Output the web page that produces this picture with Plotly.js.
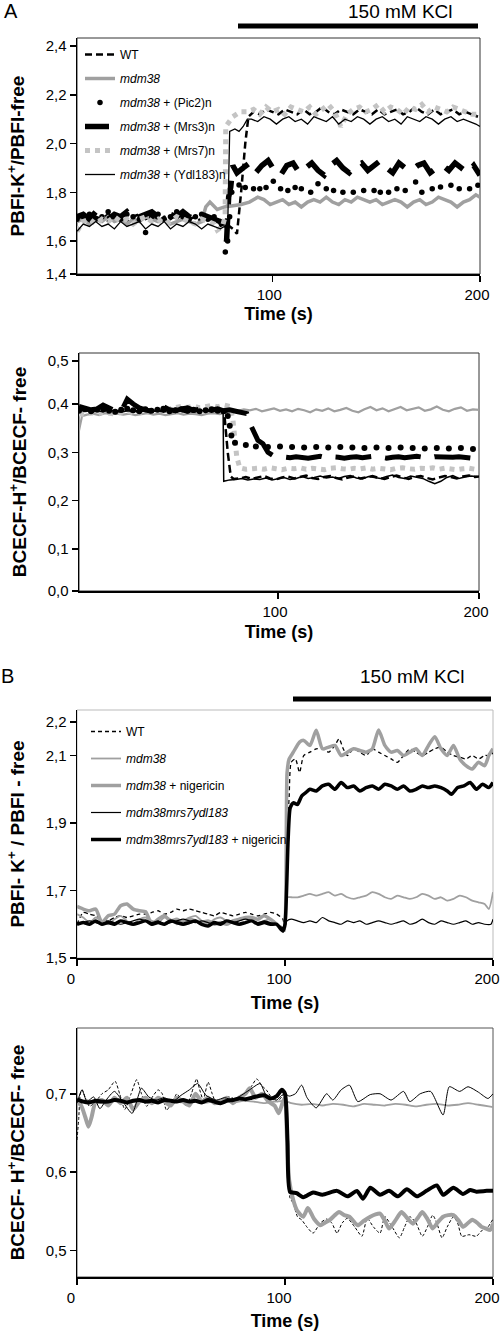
<!DOCTYPE html>
<html><head><meta charset="utf-8">
<script src="https://cdn.plot.ly/plotly-3.0.1.min.js"></script>
<style>html,body{margin:0;padding:0;background:#fff}#chart{width:500px;height:1334px}</style>
</head><body><div id="chart"></div>
<script>
// ================= DATA =================
// ---- Panel A, top (PBFI-K+/PBFI-free), time in s ----
const aTopWT_t = [6,9,12,15,18,21,24,27,30,33,36,39,42,45,48,51,54,57,60,63,66,69,72,75,78,81,83,85,87,88.5,91,94,97,100,103,106,109,112,115,118,121,124,127,130,133,136,139,142,145,148,151,154,157,160,163,166,169,172,175,178,181,184,187,190,193,196,199];
const aTopWT_v = [1.69,1.70,1.68,1.70,1.69,1.71,1.69,1.70,1.68,1.70,1.71,1.69,1.70,1.68,1.70,1.69,1.71,1.70,1.69,1.70,1.68,1.69,1.70,1.68,1.67,1.65,1.63,1.80,2.00,2.11,2.13,2.12,2.14,2.13,2.12,2.14,2.13,2.12,2.14,2.12,2.13,2.15,2.13,2.12,2.14,2.13,2.12,2.14,2.13,2.12,2.14,2.12,2.13,2.14,2.12,2.13,2.15,2.13,2.12,2.14,2.12,2.13,2.14,2.12,2.13,2.12,2.11];

const aTopM38_t = [6,9,12,15,18,21,24,27,30,33,36,39,42,45,48,51,54,57,60,63,66,68,70,73.5,77,81,85,89,93,96,99,102,105,108,111,114,117,120,123,126,129,132,135,138,141,144,147,150,153,156,159,162,165,168,171,174,177,180,183,186,189,192,195,198,200];
const aTopM38_v = [1.68,1.69,1.67,1.69,1.68,1.70,1.68,1.69,1.67,1.69,1.68,1.70,1.69,1.68,1.69,1.67,1.68,1.69,1.68,1.67,1.68,1.74,1.76,1.73,1.74,1.745,1.75,1.76,1.78,1.77,1.75,1.76,1.77,1.75,1.76,1.74,1.76,1.77,1.76,1.78,1.76,1.75,1.77,1.76,1.78,1.77,1.76,1.77,1.75,1.76,1.77,1.76,1.74,1.76,1.77,1.75,1.76,1.78,1.77,1.76,1.74,1.76,1.77,1.79,1.78];

const aTopPic2_t = [6,9,12,15,18,21,24,27,30,33,36,39,42,45,48,51,54,57,60,63,66,69,72,75,77.4,78.5,79.5,80.5,84,87,91,94,97,100.5,104,107.5,111,114,118.5,122,126,129.5,134,139,144,149,152,156,160,164,169,172,177,181,186,190,195,199];
const aTopPic2_v = [1.69,1.70,1.71,1.69,1.70,1.72,1.70,1.69,1.71,1.70,1.69,1.635,1.70,1.71,1.69,1.70,1.72,1.70,1.69,1.70,1.71,1.69,1.70,1.68,1.555,1.60,1.70,1.80,1.83,1.82,1.815,1.815,1.82,1.845,1.815,1.808,1.82,1.815,1.80,1.835,1.815,1.808,1.80,1.80,1.808,1.808,1.80,1.80,1.815,1.808,1.842,1.80,1.815,1.822,1.829,1.815,1.815,1.829];

const aTopMrs3_t = [6,9,12,15,18,21,24,27,30,33,36,39,42,45,48,51,54,57,60,63,66,69,72,75,77,78,79,80,81,83,86,89,92,95,98,101,104,107,110,113,116,119,122,125,128,131,134,137,140,143,146,149,152,155,158,161,164,167,170,173,176,179,182,185,188,191,194,197,200];
const aTopMrs3_v = [1.70,1.71,1.69,1.72,1.70,1.69,1.71,1.70,1.72,1.69,1.70,1.71,1.72,1.70,1.69,1.71,1.70,1.72,1.70,1.69,1.71,1.70,1.69,1.68,1.64,1.60,1.78,1.82,1.91,1.88,1.90,1.92,1.88,1.91,1.93,1.89,1.87,1.91,1.92,1.88,1.90,1.92,1.89,1.87,1.91,1.93,1.90,1.88,1.91,1.92,1.89,1.91,1.93,1.90,1.88,1.92,1.90,1.89,1.91,1.92,1.88,1.90,1.91,1.89,1.92,1.90,1.88,1.91,1.87];

const aTopMrs7_t = [6,9,12,15,18,21,24,27,30,33,36,39,42,45,48,51,54,57,60,63,66,69,72,73.5,76,77.3,77.6,81,84.6,88,91,94,97,100,103,106,109,112,115,118,121,124,127,130,133,136,139,142,145,148,151,154,157,160,163,166,169,172,175,178,181,184,187,190,193,196,199];
const aTopMrs7_v = [1.64,1.68,1.69,1.67,1.69,1.68,1.70,1.68,1.69,1.67,1.69,1.70,1.68,1.69,1.67,1.68,1.70,1.69,1.68,1.67,1.69,1.68,1.67,1.645,1.66,1.70,2.07,2.11,2.13,2.13,2.14,2.12,2.15,2.13,2.14,2.12,2.15,2.14,2.13,2.15,2.12,2.14,2.16,2.13,2.07,2.12,2.14,2.15,2.13,2.14,2.16,2.13,2.15,2.14,2.12,2.15,2.14,2.16,2.13,2.15,2.14,2.13,2.15,2.14,2.13,2.12,2.12];

const aTopYdl_t = [6,9,12,15,18,21,24,27,30,33,36,39,42,45,48,51,54,57,60,63,66,69,72,75,77,78.5,79.5,82,84,86,88,90,93,96,99,102,105,108,111,114,117,120,123,126,129,132,135,138,141,144,147,150,153,156,159,162,165,168,171,174,177,180,183,186,189,192,195,198,200];
const aTopYdl_v = [1.64,1.67,1.66,1.68,1.66,1.67,1.65,1.68,1.66,1.67,1.68,1.65,1.67,1.66,1.68,1.65,1.67,1.66,1.68,1.67,1.65,1.67,1.66,1.65,1.66,1.64,2.05,2.06,2.05,2.07,2.10,2.10,2.09,2.11,2.10,2.08,2.10,2.11,2.09,2.10,2.08,2.11,2.10,2.09,2.11,2.08,2.10,2.09,2.11,2.10,2.08,2.10,2.11,2.09,2.10,2.08,2.11,2.10,2.09,2.11,2.10,2.08,2.10,2.11,2.09,2.10,2.09,2.08,2.07];

// ---- Panel A, bottom (BCECF-H+/BCECF-free) ----
const aBotWT_t = [1,4,7,10,13,16,19,22,25,28,31,34,37,40,43,46,49,52,55,58,61,64,67,70,72,73.5,75,76.5,78,81,84,87,90,93,96,99,102,105,108,111,114,117,120,123,126,129,132,135,138,141,144,147,150,153,156,159,162,165,168,171,174,177,180,183,186,189,192,195,198,200];
const aBotWT_v = [0.39,0.386,0.383,0.388,0.385,0.39,0.384,0.387,0.389,0.383,0.386,0.39,0.385,0.388,0.384,0.387,0.39,0.385,0.383,0.388,0.386,0.389,0.384,0.387,0.385,0.37,0.30,0.25,0.245,0.246,0.249,0.245,0.248,0.251,0.246,0.244,0.248,0.25,0.246,0.249,0.252,0.247,0.245,0.249,0.251,0.247,0.244,0.248,0.25,0.246,0.249,0.251,0.247,0.245,0.249,0.252,0.248,0.245,0.249,0.251,0.247,0.244,0.248,0.251,0.249,0.246,0.25,0.252,0.249,0.25];

const aBotM38_t = [1,2.5,5,8,11,14,17,20,23,26,29,32,35,38,41,44,47,50,53,56,59,62,65,68,71,74,77,80,83,86,89,92,95,98,101,104,107,110,113,116,119,122,125,128,131,134,137,140,143,146,149,152,155,158,161,164,167,170,173,176,179,182,185,188,191,194,197,200];
const aBotM38_v = [0.345,0.375,0.378,0.38,0.377,0.381,0.379,0.38,0.378,0.38,0.377,0.379,0.381,0.378,0.38,0.377,0.379,0.381,0.378,0.38,0.379,0.377,0.38,0.381,0.379,0.382,0.388,0.386,0.389,0.387,0.39,0.385,0.388,0.391,0.386,0.389,0.385,0.39,0.387,0.383,0.389,0.386,0.391,0.385,0.388,0.392,0.386,0.383,0.389,0.394,0.387,0.391,0.385,0.39,0.394,0.387,0.39,0.393,0.386,0.389,0.395,0.388,0.385,0.39,0.393,0.386,0.389,0.388];

const aBotPic2_t = [1,4,7,10,13,16,19,22,25,28,31,34,37,40,43,46,49,52,55,58,61,64,67,70,73,75,76,76.8,78.6,84,89,95,101,107,113,119,125,131,137,143,149,155,161,167,173,179,185,191,197];
const aBotPic2_v = [0.386,0.389,0.385,0.388,0.39,0.386,0.384,0.388,0.39,0.387,0.385,0.389,0.386,0.388,0.39,0.385,0.387,0.389,0.386,0.388,0.385,0.387,0.389,0.386,0.385,0.375,0.355,0.335,0.32,0.315,0.312,0.311,0.312,0.311,0.31,0.311,0.31,0.311,0.31,0.309,0.31,0.309,0.31,0.309,0.308,0.309,0.308,0.309,0.307];

const aBotMrs3_t = [1,4,7,10,13,16,19,22,25,28,31,34,37,40,43,46,49,52,55,58,61,64,67,70,73,76,79,82,84.5,86,88,90,92.5,95,97.6,100,103,106,109,112,115,118,121,124,127,130,133,136,139,142,145,148,151,154,157,160,163,166,169,172,175,178,181,184,187,190,193,196,199,200];
const aBotMrs3_v = [0.395,0.392,0.388,0.39,0.398,0.392,0.386,0.385,0.41,0.4,0.392,0.388,0.385,0.39,0.395,0.388,0.386,0.39,0.392,0.387,0.389,0.385,0.388,0.39,0.386,0.388,0.385,0.383,0.38,0.36,0.34,0.325,0.318,0.30,0.293,0.292,0.29,0.289,0.291,0.29,0.288,0.29,0.292,0.289,0.291,0.29,0.288,0.29,0.291,0.289,0.29,0.292,0.29,0.288,0.29,0.291,0.289,0.29,0.292,0.29,0.288,0.291,0.29,0.289,0.29,0.291,0.29,0.288,0.29,0.288];

const aBotMrs7_t = [1,4,7,10,13,16,19,22,25,28,31,34,37,40,43,46,49,52,55,58,61,64,67,70,73,76,77.5,78.5,79.5,81,84,87,90,93,96,99,102,105,108,111,114,117,120,123,126,129,132,135,138,141,144,147,150,153,156,159,162,165,168,171,174,177,180,183,186,189,192,195,198,200];
const aBotMrs7_v = [0.38,0.378,0.382,0.38,0.383,0.381,0.379,0.383,0.385,0.382,0.384,0.381,0.386,0.388,0.385,0.39,0.392,0.395,0.393,0.396,0.392,0.395,0.397,0.394,0.398,0.395,0.37,0.33,0.29,0.268,0.265,0.266,0.267,0.265,0.268,0.266,0.264,0.267,0.266,0.268,0.265,0.267,0.266,0.264,0.267,0.268,0.266,0.265,0.267,0.266,0.268,0.265,0.267,0.266,0.264,0.267,0.268,0.266,0.265,0.267,0.266,0.268,0.265,0.267,0.266,0.264,0.266,0.267,0.265,0.266];

const aBotYdl_t = [1,4,7,10,13,16,19,22,25,28,31,34,37,40,43,46,49,52,55,58,61,64,67,70,72.7,73,76,79,82,85,88,91,94,97,100,103,106,109,112,115,118,121,124,127,130,133,136,139,142,145,148,151,154,157,160,163,166,169,172,175,178,181,184,187,190,193,196,199];
const aBotYdl_v = [0.385,0.387,0.383,0.386,0.384,0.388,0.385,0.383,0.386,0.388,0.384,0.386,0.383,0.387,0.385,0.388,0.384,0.386,0.385,0.383,0.387,0.385,0.384,0.386,0.385,0.24,0.243,0.244,0.246,0.243,0.245,0.244,0.247,0.243,0.246,0.248,0.244,0.246,0.25,0.246,0.248,0.251,0.247,0.249,0.246,0.25,0.252,0.247,0.245,0.25,0.248,0.246,0.25,0.253,0.248,0.246,0.251,0.249,0.246,0.24,0.235,0.24,0.248,0.252,0.246,0.249,0.251,0.25];

// ---- Panel B, top (PBFI-K+/PBFI-free) ----
const bTopWT_t = [0,3,6,9,12,15,18,21,24,27,30,33,36,39,42,45,48,51,54,57,60,63,66,69,72,75,78,81,84,87,90,93,96,99,100,101,102,103,105,107,109,112,115,118,121,124,126,128,130,133,136,139,142,145,148,151,154,157,160,163,166,169,172,175,178,181,184,187,190,193,196,199,200];
const bTopWT_v = [1.60,1.635,1.63,1.625,1.615,1.61,1.62,1.625,1.62,1.625,1.63,1.63,1.635,1.64,1.63,1.635,1.645,1.64,1.645,1.64,1.635,1.63,1.625,1.635,1.63,1.625,1.63,1.635,1.63,1.625,1.63,1.635,1.63,1.615,1.58,1.85,1.98,2.08,2.09,2.05,2.10,2.11,2.12,2.12,2.11,2.13,2.15,2.12,2.10,2.12,2.11,2.10,2.12,2.11,2.10,2.09,2.08,2.10,2.12,2.11,2.10,2.11,2.12,2.125,2.11,2.10,2.095,2.09,2.10,2.09,2.10,2.10,2.11];

const bTopM38_t = [0,3,6,9,12,15,18,21,24,27,30,33,36,39,42,45,48,51,54,57,60,63,66,69,72,75,78,81,84,87,90,93,96,99,100,101,103,106,109,112,115,118,121,124,127,130,133,136,139,142,145,148,151,154,157,160,163,166,169,172,175,178,181,184,187,190,193,196,198,200];
const bTopM38_v = [1.63,1.62,1.605,1.62,1.61,1.60,1.615,1.625,1.61,1.60,1.615,1.62,1.61,1.605,1.62,1.615,1.60,1.61,1.62,1.625,1.61,1.60,1.615,1.62,1.61,1.605,1.615,1.62,1.61,1.605,1.61,1.615,1.60,1.59,1.58,1.68,1.68,1.68,1.685,1.69,1.685,1.69,1.695,1.685,1.69,1.68,1.675,1.68,1.685,1.695,1.69,1.68,1.675,1.685,1.68,1.675,1.68,1.69,1.685,1.675,1.68,1.67,1.675,1.685,1.68,1.67,1.665,1.66,1.645,1.695];

const bTopM38N_t = [0,3,6,9,12,15,18,21,24,27,30,33,36,39,42,45,48,51,54,57,60,63,66,69,72,75,78,81,84,87,90,93,96,99,100,101,102,104,107,109,112,115,118,121,124,127,130,133,136,139,142,145,148,151,154,157,160,163,166,169,172,175,178,181,184,187,190,193,196,198,200];
const bTopM38N_v = [1.653,1.645,1.64,1.645,1.605,1.625,1.63,1.655,1.66,1.645,1.64,1.637,1.60,1.615,1.625,1.61,1.615,1.605,1.615,1.61,1.605,1.61,1.60,1.605,1.60,1.61,1.615,1.62,1.62,1.615,1.625,1.615,1.60,1.58,1.60,2.05,2.09,2.11,2.14,2.145,2.13,2.175,2.12,2.125,2.13,2.10,2.11,2.12,2.115,2.11,2.12,2.176,2.13,2.11,2.115,2.10,2.11,2.12,2.10,2.13,2.156,2.12,2.10,2.13,2.09,2.07,2.06,2.08,2.07,2.10,2.12];

const bTopTri_t = [0,3,6,9,12,15,18,21,24,27,30,33,36,39,42,45,48,51,54,57,60,63,66,69,72,75,78,81,84,87,90,93,96,99,100,101,103,106,109,112,115,118,121,124,127,130,133,136,139,142,145,148,151,154,157,160,163,166,169,172,175,178,181,184,187,190,193,196,199,200];
const bTopTri_v = [1.60,1.605,1.61,1.605,1.60,1.61,1.605,1.60,1.605,1.61,1.615,1.61,1.605,1.61,1.60,1.605,1.61,1.615,1.61,1.605,1.61,1.605,1.60,1.605,1.61,1.605,1.61,1.615,1.61,1.605,1.61,1.605,1.60,1.59,1.595,1.61,1.615,1.61,1.605,1.61,1.605,1.62,1.61,1.605,1.60,1.61,1.605,1.61,1.60,1.605,1.61,1.605,1.60,1.605,1.61,1.60,1.605,1.615,1.605,1.60,1.61,1.605,1.60,1.605,1.61,1.60,1.605,1.60,1.60,1.615];

const bTopTriN_t = [0,3,6,9,12,15,18,21,24,27,30,33,36,39,42,45,48,51,54,57,60,63,66,69,72,75,78,81,84,87,90,93,96,99,100,101.5,102.5,104,106,108,110,112,115,118,121,124,127,130,133,136,139,142,145,148,151,154,157,160,163,166,169,172,175,178,180,183,186,189,192,195,198,200];
const bTopTriN_v = [1.60,1.605,1.60,1.61,1.60,1.605,1.60,1.61,1.605,1.60,1.605,1.61,1.60,1.605,1.60,1.61,1.605,1.60,1.605,1.61,1.60,1.595,1.605,1.60,1.61,1.605,1.60,1.605,1.61,1.60,1.605,1.60,1.60,1.58,1.60,1.85,1.945,1.96,1.955,1.98,1.99,2.00,1.995,2.01,2.015,2.00,2.02,2.005,2.01,1.995,2.005,2.01,2.00,2.015,2.01,2.00,2.01,1.995,2.00,2.01,2.005,2.01,2.005,1.995,1.985,2.005,2.01,2.02,2.00,2.015,2.005,2.02];

// ---- Panel B, bottom (BCECF-H+/BCECF-free) ----
const bBotWT_t = [0,0.8,1.6,2.5,4,6,9,12,15,18.3,20.5,23,26,28.7,31,33.5,36,39,41,43,46,48,50.5,52.7,55,57.5,59,60.7,63,65,67,69.5,72,74.5,76.7,79,81.6,84,86.4,89,91,94.4,96.5,98.4,100,101,102.4,104,106,108,110.5,113.5,117,120,122.5,125,127.5,130,133.5,137,139.5,142.5,145.7,148,151.5,155,157.5,160,163,166,168.5,171,173,175.5,178,181,183,185,188.5,192,194.5,197,200];
const bBotWT_v = [0.641,0.667,0.70,0.705,0.695,0.684,0.69,0.70,0.705,0.716,0.70,0.68,0.70,0.718,0.70,0.684,0.695,0.705,0.70,0.679,0.69,0.70,0.69,0.684,0.70,0.719,0.705,0.692,0.715,0.70,0.688,0.69,0.696,0.695,0.692,0.695,0.70,0.71,0.719,0.71,0.705,0.692,0.69,0.696,0.70,0.62,0.567,0.56,0.543,0.539,0.53,0.522,0.535,0.54,0.535,0.522,0.535,0.541,0.53,0.518,0.541,0.53,0.522,0.543,0.53,0.516,0.53,0.543,0.535,0.518,0.53,0.545,0.535,0.516,0.53,0.543,0.535,0.518,0.52,0.518,0.525,0.528,0.54];

const bBotM38_t = [0,5,10,15,20,25,30,35,40,45,50,55,60,65,70,75,80,85,90,95,100,103,108,113,118,123,128,133,138,143,148,153,158,163,168,173,178,183,188,193,198,200];
const bBotM38_v = [0.69,0.692,0.688,0.69,0.693,0.689,0.691,0.688,0.69,0.692,0.689,0.691,0.688,0.69,0.692,0.689,0.691,0.69,0.688,0.69,0.691,0.688,0.686,0.687,0.685,0.687,0.686,0.684,0.687,0.686,0.685,0.687,0.686,0.684,0.686,0.687,0.685,0.686,0.688,0.686,0.684,0.683];

const bBotM38N_t = [0,2,4,5.5,7,9,12,15,18,21,24,27,30,33,36,39,42,45,48,51,54,57,60,63,66,69,72,75,78,81,83,86,89,92,95,97,99,100,101,102,104,106,108.8,111,114,117,119,121.6,124,126,128.5,131,133,135,138,141,143.5,145.7,148,150,153,156,158.5,161.5,164,166,168.5,171,173.5,176,178.5,181,183.5,185.6,188,190,192.5,194.5,196.5,198.6,200];
const bBotM38N_v = [0.69,0.685,0.67,0.658,0.67,0.69,0.692,0.685,0.695,0.688,0.695,0.68,0.69,0.695,0.688,0.695,0.69,0.685,0.695,0.69,0.685,0.70,0.69,0.695,0.688,0.69,0.695,0.688,0.695,0.70,0.707,0.695,0.70,0.69,0.685,0.675,0.69,0.695,0.64,0.59,0.564,0.55,0.543,0.554,0.54,0.532,0.535,0.539,0.545,0.549,0.545,0.543,0.537,0.532,0.538,0.543,0.546,0.547,0.538,0.528,0.538,0.549,0.542,0.534,0.542,0.549,0.54,0.528,0.536,0.543,0.545,0.545,0.538,0.53,0.535,0.539,0.535,0.53,0.528,0.526,0.534];

const bBotTri_t = [0,2.4,4.8,8,11,14,18,22,26.5,31,34.5,38,42,46,50,54,58,62,67,71,75,79,83,88,91,96,98.4,100,102,105,108,110.6,115,120,123,127,131,135,141,145.7,151,157,160,165,170,176,179,184,188,193,197.6,200];
const bBotTri_v = [0.688,0.705,0.69,0.696,0.681,0.692,0.703,0.69,0.675,0.707,0.696,0.692,0.695,0.69,0.698,0.705,0.713,0.698,0.692,0.695,0.692,0.698,0.705,0.713,0.698,0.692,0.698,0.70,0.697,0.70,0.711,0.695,0.682,0.70,0.692,0.705,0.711,0.69,0.699,0.70,0.692,0.703,0.69,0.70,0.703,0.673,0.709,0.703,0.709,0.702,0.694,0.70];

const bBotTriN_t = [0,3,6,9,12,15,18,21,24,27,30,33,36,39,42,45,48,51,54,57,60,63,66,69,72,75,78,81,84,87,90,93,96,98.5,100,101.2,102.4,105.6,108.8,113.5,118,125,130,134.6,137.5,141,145.7,150,154.3,158.6,163.4,168,173,176,181,185.6,189,192,197,200];
const bBotTriN_v = [0.693,0.69,0.689,0.691,0.69,0.69,0.692,0.691,0.689,0.691,0.692,0.69,0.691,0.689,0.692,0.691,0.69,0.692,0.69,0.691,0.689,0.692,0.69,0.688,0.691,0.692,0.694,0.693,0.695,0.697,0.698,0.694,0.697,0.705,0.70,0.64,0.575,0.573,0.568,0.574,0.571,0.576,0.569,0.576,0.566,0.58,0.571,0.576,0.569,0.578,0.569,0.576,0.583,0.571,0.58,0.572,0.577,0.575,0.576,0.576];

// Labels
const legendA = ['WT','<i>mdm38</i>','<i>mdm38</i> + (Pic2)n','<i>mdm38</i> + (Mrs3)n','<i>mdm38</i> + (Mrs7)n','<i>mdm38</i> + (Ydl183)n'];
const legendB = ['WT','<i>mdm38</i>','<i>mdm38</i> + nigericin','<i>mdm38mrs7ydl183</i>','<i>mdm38mrs7ydl183</i> + nigericin'];
const yTicksA1 = {vals:[1.465,1.6,1.8,2.0,2.2,2.4], text:['1,4','1,6','1,8','2,0','2,2','2,4']};
const yTicksA2 = {vals:[0.013,0.1,0.2,0.3,0.4,0.489], text:['0,0','0,1','0,2','0,3','0,4','0,5']};
const yTicksB1 = {vals:[1.5,1.7,1.9,2.1,2.2], text:['1,5','1,7','1,9','2,1','2,2']};
const yTicksB2 = {vals:[0.5,0.6,0.7], text:['0,5','0,6','0,7']};

// ================= STYLE / LAYOUT =================
const FONT = '"Liberation Sans", Arial, sans-serif';
const W = 500, H = 1334;
const GRAY = '#a0a0a0', LGRAY = '#c4c4c4';
const dX = (a,b) => [a/W, b/W];
const dY = (top,bot) => [1-bot/H, 1-top/H];

function line(x,y,xa,ya,name,legend,style,show){
  return Object.assign({type:'scatter', mode:'lines', x, y, xaxis:xa, yaxis:ya, name,
    legend: legend, showlegend: !!show, legendgroup: name+xa, hoverinfo:'skip'}, style);
}
const SPL = {shape:'spline', smoothing:0.6};
const bl = (c,w,extra) => ({line:Object.assign({color:c,width:w}, SPL, extra||{})});

const sWT = {line:{color:'#000',width:2.5,dash:'7px,4px'}};
const sM38A = {line:{color:GRAY,width:3.5}};
const sPic2 = {mode:'markers', marker:{color:'#000',size:5.5,symbol:'circle'}};
const sMrs3A = {line:{color:'#000',width:5.5,dash:'24px,14px'}};
const sMrs7 = {line:{color:LGRAY,width:5,dash:'dot'}};
const sYdl = {line:{color:'#000',width:1.3}};

const traces = [
  line(aTopWT_t,aTopWT_v,'x','y',legendA[0],'legend',sWT,true),
  line(aTopM38_t,aTopM38_v,'x','y',legendA[1],'legend',sM38A,true),
  line(aTopPic2_t,aTopPic2_v,'x','y',legendA[2],'legend',sPic2,true),
  line(aTopMrs3_t,aTopMrs3_v,'x','y',legendA[3],'legend',sMrs3A,true),
  line(aTopMrs7_t,aTopMrs7_v,'x','y',legendA[4],'legend',sMrs7,true),
  line(aTopYdl_t,aTopYdl_v,'x','y',legendA[5],'legend',sYdl,true),

  line(aBotM38_t,aBotM38_v,'x2','y2',legendA[1],'legend',{line:{color:GRAY,width:2.2}},false),
  line(aBotMrs7_t,aBotMrs7_v,'x2','y2',legendA[4],'legend',sMrs7,false),
  line(aBotPic2_t,aBotPic2_v,'x2','y2',legendA[2],'legend',{mode:'markers',marker:{color:'#000',size:6}},false),
  line(aBotMrs3_t,aBotMrs3_v,'x2','y2',legendA[3],'legend',{line:{color:'#000',width:5,dash:'36px,14px'}},false),
  line(aBotWT_t,aBotWT_v,'x2','y2',legendA[0],'legend',{line:{color:'#000',width:2.5,dash:'8px,4px'}},false),
  line(aBotYdl_t,aBotYdl_v,'x2','y2',legendA[5],'legend',{line:{color:'#000',width:1.5}},false),

  line(bTopWT_t,bTopWT_v,'x3','y3',legendB[0],'legend2',bl('#000',1.3,{dash:'4px,3px'}),true),
  line(bTopM38_t,bTopM38_v,'x3','y3',legendB[1],'legend2',bl(GRAY,1.8),true),
  line(bTopM38N_t,bTopM38N_v,'x3','y3',legendB[2],'legend2',bl(GRAY,3.5),true),
  line(bTopTri_t,bTopTri_v,'x3','y3',legendB[3],'legend2',bl('#000',1.2),true),
  line(bTopTriN_t,bTopTriN_v,'x3','y3',legendB[4],'legend2',bl('#000',3.5),true),

  line(bBotWT_t,bBotWT_v,'x4','y4',legendB[0],'legend2',bl('#000',1,{dash:'3px,2px'}),false),
  line(bBotM38_t,bBotM38_v,'x4','y4',legendB[1],'legend2',bl(GRAY,1.8),false),
  line(bBotM38N_t,bBotM38N_v,'x4','y4',legendB[2],'legend2',bl(GRAY,4),false),
  line(bBotTri_t,bBotTri_v,'x4','y4',legendB[3],'legend2',bl('#000',1),false),
  line(bBotTriN_t,bBotTriN_v,'x4','y4',legendB[4],'legend2',bl('#000',4),false)
];

const axBase = {showline:true, linecolor:'#000', linewidth:1.5, ticks:'outside', ticklen:6, tickwidth:1.5,
  tickcolor:'#000', showgrid:false, zeroline:false, fixedrange:true, ticklabeloverflow:'allow',
  tickfont:{family:FONT,size:15,color:'#000'}};
const xTitle = s => ({text:'<b>Time (s)</b>', font:{family:FONT,size:18,color:'#000'}, standoff:s});
const yTitle = t => ({text:'<b>'+t+'</b>', font:{family:FONT,size:19,color:'#000'}, standoff:16});

const frame = (xr,yr,c) => ({type:'rect', xref:xr+' domain', yref:yr+' domain', x0:0,x1:1,y0:0,y1:1,
  line:{color:c,width:1}, layer:'below'});
const bar = (x0,x1,y) => ({type:'line', xref:'paper', yref:'paper', x0:x0/W, x1:x1/W, y0:1-y/H, y1:1-y/H,
  line:{color:'#000',width:5}});
const ann = (text,x,y,size) => ({text, x:x/W, y:1-y/H, xref:'paper', yref:'paper', showarrow:false,
  xanchor:'center', yanchor:'middle', font:{family:FONT,size,color:'#000'}});

const layout = {
  width:W, height:H, margin:{l:0,r:0,t:0,b:0}, paper_bgcolor:'#fff', plot_bgcolor:'#fff',
  font:{family:FONT,color:'#000'},
  xaxis: Object.assign({}, axBase, {domain:dX(77,480), range:[6,200], tickvals:[100,200], anchor:'y', title:xTitle(6), ticklabelshift:-3}),
  yaxis: Object.assign({}, axBase, {domain:dY(38,274), range:[1.465,2.433], tickvals:yTicksA1.vals, ticktext:yTicksA1.text, anchor:'x',
    title:yTitle('PBFI-K<sup>+</sup>/PBFI-free')}),
  xaxis2: Object.assign({}, axBase, {domain:dX(79,479), range:[1,200], tickvals:[100,200], anchor:'y2', title:xTitle(7), ticklabelshift:-3}),
  yaxis2: Object.assign({}, axBase, {domain:dY(353,591), range:[0.013,0.5056], tickvals:yTicksA2.vals, ticktext:yTicksA2.text, anchor:'x2',
    title:yTitle('BCECF-H<sup>+</sup>/BCECF- free')}),
  xaxis3: Object.assign({}, axBase, {domain:dX(77,493), range:[0,200], tickvals:[0,100,200], anchor:'y3', title:xTitle(11), ticklabelshift:-6}),
  yaxis3: Object.assign({}, axBase, {domain:dY(710,958), range:[1.5,2.235], tickvals:yTicksB1.vals, ticktext:yTicksB1.text, anchor:'x3',
    title:yTitle('PBFI- K<sup>+</sup> / PBFI - free')}),
  xaxis4: Object.assign({}, axBase, {domain:dX(77,493), range:[0,200], tickvals:[0,100,200], anchor:'y4', title:xTitle(10), ticklabelshift:-6}),
  yaxis4: Object.assign({}, axBase, {domain:dY(1028,1277), range:[0.466,0.784], tickvals:yTicksB2.vals, ticktext:yTicksB2.text, anchor:'x4',
    title:yTitle('BCECF- H<sup>+</sup>/BCECF- free')}),
  legend: {x:80/W, y:1-40/H, xanchor:'left', yanchor:'top', bgcolor:'rgba(0,0,0,0)', borderwidth:0,
    font:{family:FONT,size:12,color:'#000'}, traceorder:'grouped', tracegroupgap:5},
  legend2: {x:86/W, y:1-717/H, xanchor:'left', yanchor:'top', bgcolor:'rgba(0,0,0,0)', borderwidth:0,
    font:{family:FONT,size:12,color:'#000'}, traceorder:'grouped', tracegroupgap:8},
  shapes: [
    frame('x','y','#333'), frame('x2','y2','#333'), frame('x3','y3','#bbb'), frame('x4','y4','#555'),
    bar(238,478,26), bar(293,491,699)
  ],
  annotations: [
    ann('A',11,11,20), ann('150 mM KCl',400,11,19),
    ann('B',7,676,20), ann('150 mM KCl',412,676,19)
  ]
};

Plotly.newPlot('chart', traces, layout, {staticPlot:true, displayModeBar:false});
</script></body></html>
